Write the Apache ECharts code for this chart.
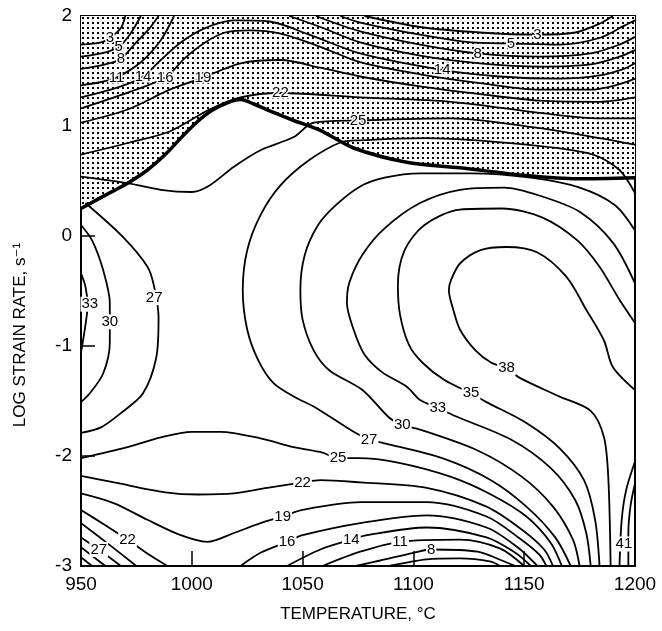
<!DOCTYPE html>
<html><head><meta charset="utf-8">
<script src="https://cdn.jsdelivr.net/npm/echarts/dist/echarts.min.js"></script>
<style>html,body{margin:0;padding:0;background:#fff}#c{width:662px;height:631px}</style>
</head><body><div id="c"></div>
<script>
// Axis ticks
const xTicks = [950, 1000, 1050, 1100, 1150, 1200];
const yTicks = [-3, -2, -1, 0, 1, 2];

// Instability boundary [T, log strain rate]
const boundary = [[950,0.25],[960,0.36],[971,0.48],[980,0.60],[988,0.74],[995,0.89],[1002,1.03],[1009,1.14],[1016,1.21],[1022,1.24],[1028,1.20],[1036,1.13],[1046,1.05],[1058,0.96],[1073,0.80],[1097,0.67],[1121,0.62],[1151,0.55],[1174,0.52],[1200,0.53]];

// Iso-efficiency contours (%), upper region
const c3a = [[950,1.74],[959,1.76],[963,1.80],[968,1.89],[970,2.00]];
const c3b = [[1078,2.00],[1103,1.90],[1130,1.85],[1156,1.83],[1173,1.85],[1184,1.93],[1190,2.00]];
const c5a = [[950,1.63],[961,1.67],[967,1.72],[972,1.83],[977,2.00]];
const c5b = [[1067,2.00],[1076,1.94],[1103,1.83],[1126,1.76],[1144,1.75],[1166,1.74],[1184,1.80],[1195,1.91],[1200,1.96]];
const c8a = [[950,1.52],[961,1.56],[968,1.61],[974,1.74],[981,1.89],[985,2.00]];
const c8b = [[1056,2.00],[1076,1.86],[1103,1.74],[1129,1.66],[1157,1.63],[1180,1.66],[1193,1.74],[1200,1.81]];
const c11a = [[950,1.37],[959,1.40],[966,1.44],[977,1.58],[986,1.78],[992,2.00]];
const c11b = [[1044,2.00],[1058,1.90],[1076,1.76],[1103,1.64],[1130,1.57],[1157,1.54],[1180,1.56],[1193,1.63],[1200,1.69]];
const c14a = [[950,1.26],[968,1.36],[978,1.45],[986,1.60],[995,1.76],[1006,1.89],[1019,1.96],[1035,1.95],[1053,1.83],[1076,1.66],[1113,1.51],[1139,1.45],[1166,1.43],[1184,1.46],[1195,1.52],[1200,1.57]];
const c16a = [[950,1.16],[972,1.31],[988,1.44],[997,1.62],[1006,1.76],[1015,1.85],[1026,1.87],[1040,1.84],[1058,1.72],[1076,1.58],[1103,1.47],[1130,1.39],[1157,1.33],[1180,1.33],[1193,1.38],[1200,1.43]];
const c19a = [[950,1.03],[971,1.15],[990,1.33],[1005,1.44],[1022,1.57],[1040,1.60],[1058,1.53],[1076,1.45],[1103,1.36],[1130,1.29],[1157,1.23],[1184,1.22],[1200,1.26]];
const c22a = [[950,0.74],[972,0.85],[990,0.95],[1008,1.15],[1022,1.26],[1040,1.30],[1076,1.26],[1117,1.22],[1157,1.12],[1184,1.07],[1200,1.07]];
const c25a = [[950,0.54],[971,0.48],[986,0.42],[1000,0.40],[1008,0.46],[1019,0.63],[1031,0.78],[1046,0.90],[1055,1.03],[1075,1.05],[1117,1.07],[1157,0.98],[1184,0.89],[1200,0.83]];

// C-shaped family on the right
const c27a = [[1200,0.39],[1193,0.60],[1181,0.74],[1151,0.83],[1106,0.89],[1076,0.87],[1067,0.85],[1053,0.69],[1040,0.46],[1031,0.19],[1025,-0.13],[1023,-0.49],[1025,-0.85],[1030,-1.13],[1037,-1.34],[1047,-1.47],[1055,-1.55],[1073,-1.78],[1080,-1.85],[1086,-1.88],[1113,-2.02],[1135,-2.22],[1151,-2.46],[1164,-2.74],[1171,-3.00]];
const c30a = [[1200,0.05],[1191,0.28],[1175,0.44],[1153,0.53],[1126,0.57],[1103,0.57],[1087,0.53],[1076,0.45],[1065,0.28],[1057,0.10],[1051,-0.17],[1049,-0.49],[1050,-0.76],[1055,-1.04],[1062,-1.22],[1077,-1.40],[1089,-1.65],[1095,-1.72],[1103,-1.76],[1129,-1.95],[1149,-2.19],[1163,-2.46],[1172,-2.76],[1175,-3.00]];
const c33a = [[1200,-0.43],[1190,-0.06],[1175,0.22],[1158,0.36],[1141,0.44],[1121,0.42],[1103,0.30],[1087,0.07],[1077,-0.17],[1071,-0.43],[1070,-0.61],[1073,-0.85],[1078,-1.08],[1086,-1.24],[1097,-1.37],[1103,-1.49],[1111,-1.56],[1118,-1.63],[1144,-1.85],[1162,-2.11],[1173,-2.40],[1178,-2.70],[1180,-3.00]];
const c35a = [[1200,-0.79],[1193,-0.58],[1184,-0.28],[1174,-0.04],[1158,0.17],[1140,0.25],[1121,0.24],[1105,0.10],[1096,-0.13],[1093,-0.45],[1094,-0.72],[1098,-0.99],[1104,-1.15],[1114,-1.31],[1126,-1.43],[1133,-1.51],[1151,-1.70],[1166,-1.93],[1177,-2.22],[1182,-2.58],[1184,-3.00]];
const c38a = [[1200,-1.40],[1190,-1.19],[1186,-0.95],[1178,-0.67],[1169,-0.37],[1156,-0.15],[1142,-0.10],[1130,-0.13],[1121,-0.25],[1117,-0.40],[1116,-0.49],[1118,-0.67],[1121,-0.85],[1128,-1.04],[1135,-1.15],[1142,-1.20],[1148,-1.29],[1166,-1.46],[1180,-1.59],[1186,-1.83],[1188,-2.22],[1189,-3.00]];
const c41a = [[1200,-2.05],[1196,-2.31],[1194,-2.58],[1193,-3.00]];
const c41b = [[1200,-2.25],[1198,-2.45],[1197,-2.70],[1197,-3.00]];

// Lower region
const c25b = [[950,-2.02],[971,-1.92],[986,-1.83],[1000,-1.78],[1013,-1.78],[1031,-1.84],[1046,-1.92],[1059,-1.97],[1066,-2.02],[1075,-2.02],[1093,-2.06],[1117,-2.19],[1135,-2.35],[1151,-2.55],[1162,-2.79],[1167,-3.00]];
const c22b = [[950,-2.18],[965,-2.24],[988,-2.33],[1003,-2.35],[1019,-2.34],[1034,-2.29],[1050,-2.24],[1058,-2.22],[1076,-2.24],[1106,-2.29],[1133,-2.46],[1149,-2.67],[1159,-2.85],[1163,-3.00]];
const c19b = [[950,-2.34],[965,-2.43],[980,-2.58],[995,-2.72],[1007,-2.78],[1019,-2.70],[1031,-2.61],[1041,-2.55],[1050,-2.49],[1076,-2.42],[1106,-2.42],[1133,-2.55],[1148,-2.75],[1157,-2.90],[1160,-3.00]];
const c16b = [[1022,-3.00],[1031,-2.88],[1043,-2.78],[1050,-2.72],[1076,-2.61],[1106,-2.54],[1133,-2.65],[1147,-2.83],[1156,-3.00]];
const c14b = [[1043,-3.00],[1058,-2.85],[1072,-2.76],[1079,-2.72],[1106,-2.65],[1133,-2.74],[1146,-2.88],[1153,-3.00]];
const c11c = [[1059,-3.00],[1076,-2.87],[1094,-2.78],[1121,-2.76],[1139,-2.84],[1150,-3.00]];
const c8c = [[1074,-3.00],[1085,-2.95],[1100,-2.88],[1108,-2.85],[1129,-2.87],[1140,-2.95],[1146,-3.00]];
const c5c = [[1089,-3.00],[1106,-2.94],[1121,-2.93],[1135,-2.96],[1139,-3.00]];
const c22c = [[950,-2.49],[961,-2.63],[971,-2.76],[981,-2.90],[989,-3.00]];
const c25c = [[950,-2.61],[963,-2.81],[975,-3.00]];
const c27c = [[950,-2.74],[958,-2.85],[968,-3.00]];
const c30c = [[950,-2.83],[961,-3.00]];
const c33c = [[950,-2.92],[955,-3.00]];

// Left arcs
const c33L = [[950,-0.34],[952,-0.46],[953,-0.63],[952,-0.81],[950,-1.06]];
const c30L = [[950,0.10],[955,-0.04],[960,-0.31],[963,-0.61],[963,-0.97],[960,-1.25],[954,-1.43],[950,-1.51]];
const c27L = [[952,0.30],[969,-0.01],[980,-0.28],[983,-0.46],[985,-0.74],[984,-1.10],[978,-1.43],[968,-1.61],[959,-1.74],[950,-1.79]];

// Contour labels [T, logRate, text]
const labelsUpper = [[963,1.80,'3'],[967,1.72,'5'],[968,1.61,'8'],[966,1.44,'11'],[978,1.45,'14'],[988,1.44,'16'],[1005,1.44,'19'],[1040,1.30,'22'],[1075,1.05,'25'],[1113,1.51,'14'],[1129,1.66,'8'],[1144,1.75,'5'],[1156,1.83,'3']];
const labelsLower = [[954,-0.62,'33'],[963,-0.78,'30'],[983,-0.56,'27'],[1080,-1.85,'27'],[1095,-1.72,'30'],[1111,-1.56,'33'],[1126,-1.43,'35'],[1142,-1.20,'38'],[1066,-2.02,'25'],[1050,-2.24,'22'],[1041,-2.55,'19'],[1043,-2.78,'16'],[1072,-2.76,'14'],[1094,-2.78,'11'],[1108,-2.85,'8'],[1195,-2.80,'41'],[971,-2.76,'22'],[958,-2.85,'27']];

const contours = [c3a,c3b,c5a,c5b,c8a,c8b,c11a,c11b,c14a,c16a,c19a,c22a,c25a,c27a,c30a,c33a,c35a,c38a,c41a,c41b,c25b,c22b,c19b,c16b,c14b,c11c,c8c,c5c,c22c,c25c,c27c,c30c,c33c,c33L,c30L,c27L];

const FONT = 'Liberation Sans, Arial, DejaVu Sans, sans-serif';

// stipple pattern
const pc = document.createElement('canvas');
pc.width = 5; pc.height = 5;
const g = pc.getContext('2d');
g.fillStyle = '#fff'; g.fillRect(0,0,5,5);
g.fillStyle = '#000'; g.fillRect(2,2,2,2);

const chart = echarts.init(document.getElementById('c'), null, {renderer:'canvas'});

const series = [];
series.push({
  type:'line', data: boundary, symbol:'none', smooth:0.3, silent:true, z:1,
  lineStyle:{width:0, opacity:0},
  areaStyle:{color:{image:pc, repeat:'repeat'}, origin:'end', opacity:1}
});
contours.forEach(c => series.push({
  type:'line', data:c, symbol:'none', smooth:0.3, silent:true, z:2,
  lineStyle:{color:'#000', width:1.8}
}));
series.push({
  type:'line', data: boundary, symbol:'none', smooth:0.3, silent:true, z:3,
  lineStyle:{color:'#000', width:3.5}
});
function labelSeries(arr, upper){
  return {
    type:'scatter', data:arr, symbolSize:0, silent:true, z:5,
    itemStyle:{opacity:1},
    label:{show:true, position:'inside', formatter:p=>p.data[2], opacity:1,
      fontFamily:FONT, fontSize:15, color:'#000',
      backgroundColor: upper ? 'transparent' : '#fff',
      textBorderColor: upper ? '#fff' : 'transparent',
      textBorderWidth: upper ? 3 : 0,
      padding:[0,1]}
  };
}
series.push(labelSeries(labelsUpper, true));
series.push(labelSeries(labelsLower, false));

const axisLine = {show:true, onZero:false, lineStyle:{color:'#000', width:2}};
chart.setOption({
  animation:false,
  backgroundColor:'#fff',
  grid:{left:81, right:27, top:16, bottom:65, containLabel:false},
  xAxis:[
    {type:'value', min:xTicks[0], max:xTicks[xTicks.length-1], interval:50, position:'bottom',
     axisLine, axisTick:{show:true, inside:true, length:15, lineStyle:{color:'#000', width:1.5}},
     axisLabel:{fontFamily:FONT, fontSize:19, color:'#000', margin:9, formatter:v=>String(v)},
     splitLine:{show:false},
     name:'TEMPERATURE, °C', nameLocation:'middle', nameGap:40,
     nameTextStyle:{fontFamily:FONT, fontSize:17, color:'#000'}},
    {type:'value', min:xTicks[0], max:xTicks[xTicks.length-1], interval:50, position:'top',
     axisLine, axisTick:{show:false}, axisLabel:{show:false}, splitLine:{show:false}}
  ],
  yAxis:[
    {type:'value', min:yTicks[0], max:yTicks[yTicks.length-1], interval:1, position:'left',
     axisLine, axisTick:{show:true, inside:true, length:14, lineStyle:{color:'#000', width:1.5}},
     axisLabel:{fontFamily:FONT, fontSize:19, color:'#000', margin:9, formatter:v=>String(v)},
     splitLine:{show:false},
     name:'LOG STRAIN RATE, s⁻¹', nameLocation:'middle', nameGap:52, nameRotate:90,
     nameTextStyle:{fontFamily:FONT, fontSize:17, color:'#000', padding:[0,88,0,0]}},
    {type:'value', min:yTicks[0], max:yTicks[yTicks.length-1], interval:1, position:'right',
     axisLine, axisTick:{show:false}, axisLabel:{show:false}, splitLine:{show:false}}
  ],
  series
});
</script></body></html>
